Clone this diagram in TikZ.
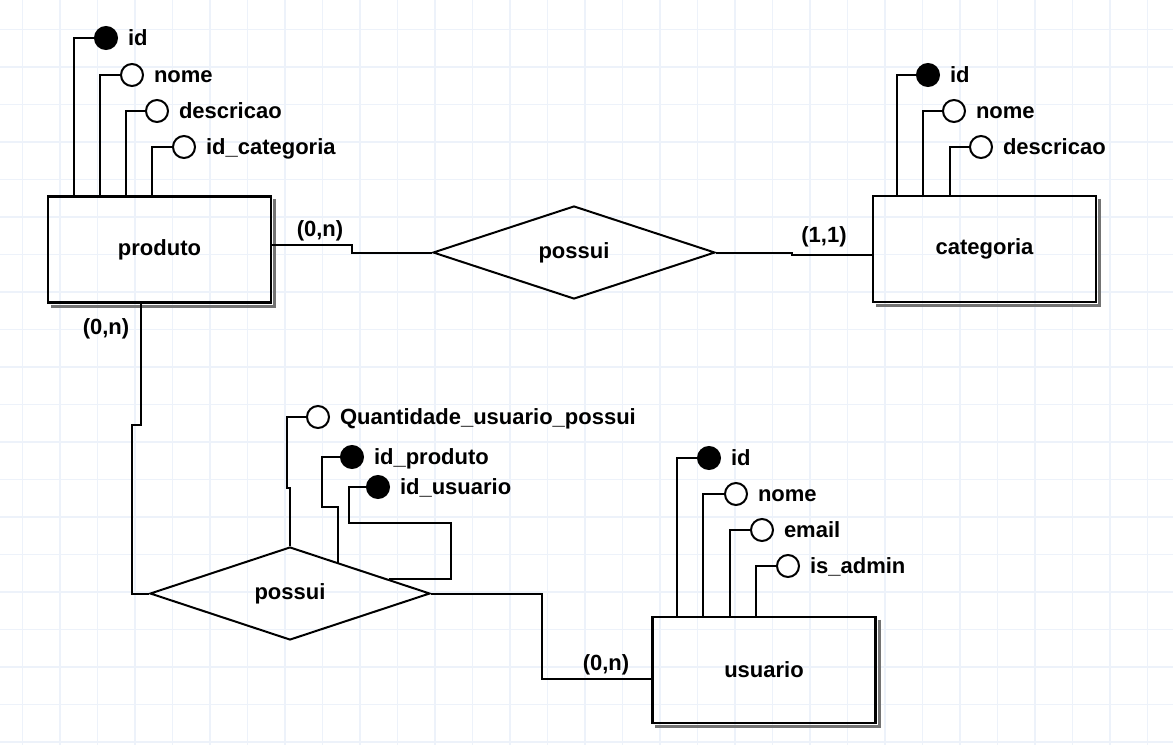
\documentclass[tikz,border=0pt]{standalone}
\usepackage{fontspec}
\setmainfont{Liberation Sans}
\usepackage{tikz}
\usetikzlibrary{positioning,shapes.geometric}
\definecolor{gridblue}{HTML}{EDF2FA}
\tikzstyle{gridline} = [draw=gridblue,line width=0.9pt]
\tikzstyle{entity}   = [draw,line width=1.2pt,minimum width=111.5pt,minimum height=53pt]
\tikzstyle{boxshadow}= [draw=black!55,line width=1.4pt]
\tikzstyle{relation} = [draw,diamond,aspect=3,inner sep=0pt,minimum width=141pt,minimum height=46.5pt]
\tikzstyle{attr}     = [draw,circle,fill=white,inner sep=0pt,minimum size=11pt]
\tikzstyle{keyattr}  = [attr,fill=black]
\tikzstyle{attrname} = [inner sep=0pt,text height=10pt,text depth=2.5pt]
\tikzstyle{card}     = [inner sep=0pt]

\begin{document}
\begin{tikzpicture}[x=0.5pt,y=-0.5pt,line width=1pt,font=\fontsize{11pt}{13pt}\selectfont\bfseries]

\fill[white] (0,0) rectangle (1173,745);
\useasboundingbox (0,0) rectangle (1173,745);
\foreach \gx in {0,...,30} \draw[gridline] (22.5+37.5*\gx,0) -- (22.5+37.5*\gx,745);
\foreach \gy in {0,...,19} \draw[gridline] (0,29.5+37.5*\gy) -- (1173,29.5+37.5*\gy);

\node[entity] (produto)   at (159.5,249.5) {produto};
\node[entity] (categoria) at (984.5,249)   {categoria};
\node[entity] (usuario)   at (764,670)     {usuario};
\foreach \e in {produto,categoria,usuario}
    \draw[boxshadow] ([shift={(1.3pt,-2pt)}]\e.north east) |- ([shift={(2pt,-1.3pt)}]\e.south west);

\node[relation] (possui1) at (574,252.5) {possui};
\node[relation,minimum width=140pt] (possui2) at (290,593.5) {possui};

% produto
\node[keyattr] (pid)   at (106,38)  {};
\node[attr]    (pnome) at (132,75)  {};
\node[attr]    (pdesc) at (157,111) {};
\node[attr]    (pcat)  at (184,147) {};
\node[attrname,right=4.5pt of pid]   (pidtxt)   {id};
\node[attrname,right=4.5pt of pnome] (pnometxt) {nome};
\node[attrname,right=4.5pt of pdesc] (pdesctxt) {descricao};
\node[attrname,right=4.5pt of pcat]  (pcattxt)  {id\_categoria};
\draw (pid.west)   -| ([xshift=13.5pt]produto.north west);
\draw (pnome.west) -| ([xshift=26.5pt]produto.north west);
\draw (pdesc.west) -| ([xshift=39.5pt]produto.north west);
\draw (pcat.west)  -| ([xshift=52.5pt]produto.north west);

% categoria
\node[keyattr] (cid)   at (928,75)  {};
\node[attr]    (cnome) at (954,111) {};
\node[attr]    (cdesc) at (981,147) {};
\node[attrname,right=4.5pt of cid]   (cidtxt)   {id};
\node[attrname,right=4.5pt of cnome] (cnometxt) {nome};
\node[attrname,right=4.5pt of cdesc] (cdesctxt) {descricao};
\draw (cid.west)   -| ([xshift=12.5pt]categoria.north west);
\draw (cnome.west) -| ([xshift=25.5pt]categoria.north west);
\draw (cdesc.west) -| ([xshift=39pt]categoria.north west);

% usuario
\node[keyattr] (uid)    at (709,458) {};
\node[attr]    (unome)  at (736,494) {};
\node[attr]    (uemail) at (762,530) {};
\node[attr]    (uadmin) at (788,566) {};
\node[attrname,right=4.5pt of uid]    (uidtxt)    {id};
\node[attrname,right=4.5pt of unome]  (unometxt)  {nome};
\node[attrname,right=4.5pt of uemail] (uemailtxt) {email};
\node[attrname,right=4.5pt of uadmin] (uadmintxt) {is\_admin};
\draw (uid.west)    -| ([xshift=13pt]usuario.north west);
\draw (unome.west)  -| ([xshift=26pt]usuario.north west);
\draw (uemail.west) -| ([xshift=39.5pt]usuario.north west);
\draw (uadmin.west) -| ([xshift=52.5pt]usuario.north west);

% possui (produto - usuario)
\node[attr]    (qtd)    at (318,417) {};
\node[keyattr] (idprod) at (352,457) {};
\node[keyattr] (idusu)  at (378,487) {};
\node[attrname,right=4.5pt of qtd]    (qtdtxt)    {Quantidade\_usuario\_possui};
\node[attrname,right=4.5pt of idprod] (idprodtxt) {id\_produto};
\node[attrname,right=4.5pt of idusu]  (idusutxt)  {id\_usuario};
\coordinate (r1) at (287,488);
\coordinate (r2) at (322,507);
\coordinate (r3) at (338,563);
\coordinate (r4) at (349,523);
\coordinate (r5) at (451,579);
\coordinate (r6) at (389,579);
\draw (qtd.west) -| (r1) -- (r1 -| possui2.north) -- (possui2.north);
\draw (idprod.west) -| (r2) -| (r3);
\draw (idusu.west) -| (r4) -| (r5) -- (r6);

% relacionamentos
\coordinate (b1) at (352,245);
\coordinate (b2) at (792,254.5);
\coordinate (b3) at (141,425);
\coordinate (b4) at (132,425);
\coordinate (b5) at (542,679);
\draw (produto.east |- b1) -- (b1) |- (possui1.west);
\draw (possui1.east) -| (b2) -- (categoria.west |- b2);
\draw (produto.south -| b3) -- (b3) -- (b4) |- (possui2.west);
\draw (possui2.east) -| (b5) -- (usuario.west |- b5);

\node[card] (card1) at (320,231) {(0,n)};
\node[card] (card2) at (824,237) {(1,1)};
\node[card] (card3) at (106,329) {(0,n)};
\node[card] (card4) at (606,665) {(0,n)};

\end{tikzpicture}
\end{document}
